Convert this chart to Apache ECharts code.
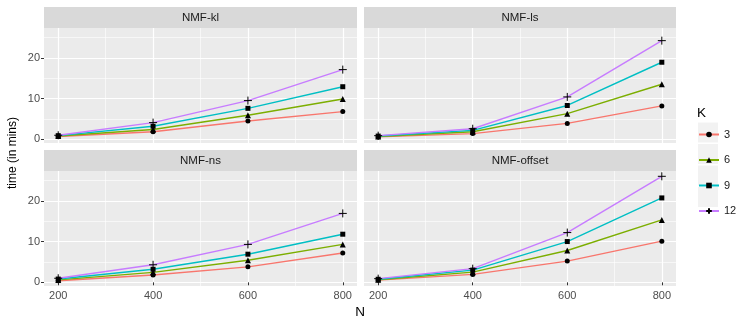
<!DOCTYPE html>
<html>
<head>
<meta charset="utf-8">
<script src="https://cdn.jsdelivr.net/npm/echarts@6/dist/echarts.min.js"></script>
<style>
  html, body { margin: 0; padding: 0; background: #fff; }
  #chart { width: 747px; height: 323px; }
</style>
</head>
<body>
<div id="chart"></div>
<script>
const nValues = [200, 400, 600, 800];
const kLevels = ['3', '6', '9', '12'];
const panelNames = ['NMF-kl', 'NMF-ls', 'NMF-ns', 'NMF-offset'];

const klTimes = [
  [0.7, 1.85, 4.5, 6.8],
  [0.8, 2.4, 5.9, 9.9],
  [0.9, 3.2, 7.6, 12.9],
  [1.0, 4.1, 9.5, 17.1]
];
const lsTimes = [
  [0.6, 1.4, 3.9, 8.2],
  [0.7, 1.85, 6.3, 13.5],
  [0.8, 2.2, 8.3, 18.9],
  [0.9, 2.6, 10.4, 24.2]
];
const nsTimes = [
  [0.4, 1.8, 3.8, 7.2],
  [0.6, 2.45, 5.4, 9.3],
  [0.8, 3.2, 6.9, 11.8],
  [1.0, 4.3, 9.3, 16.9]
];
const offsetTimes = [
  [0.55, 1.95, 5.2, 10.1],
  [0.65, 2.5, 7.8, 15.3],
  [0.75, 3.0, 10.0, 20.7],
  [0.9, 3.35, 12.2, 26.0]
];
const panelTimes = [klTimes, lsTimes, nsTimes, offsetTimes];

const xTicks = [200, 400, 600, 800];
const xMinor = [300, 500, 700];
const yTicks = [0, 10, 20];
const yMinor = [5, 15, 25];

// ggplot-ish look
const lineColors = ['#F8766D', '#7CAE00', '#00BFC4', '#C77CFF'];
const symbols = ['circle', 'triangle', 'rect', 'path://M0,5L10,5M5,0L5,10'];
const symbolSizes = [5, 6, 5, 8];
const font = 'Liberation Sans, Arial, sans-serif';

// panel boxes
const panels = [
  { left: 44, top: 28, width: 313, height: 115 },
  { left: 364, top: 28, width: 312, height: 115 },
  { left: 44, top: 171, width: 313, height: 115 },
  { left: 364, top: 171, width: 312, height: 115 }
];
const stripH = 21;

var chartDom = document.getElementById('chart');
var myChart = echarts.init(chartDom);

var grids = [], xAxes = [], yAxes = [], series = [], graphics = [];

panels.forEach(function (p, i) {
  var bottomRow = i >= 2;
  var leftCol = i % 2 === 0;

  grids.push({
    left: p.left, top: p.top, width: p.width, height: p.height,
    show: true, backgroundColor: '#EBEBEB', borderWidth: 0
  });

  // major x axis
  xAxes.push({
    type: 'value', gridIndex: i, min: 170, max: 830,
    axisLine: { show: false },
    axisTick: { show: bottomRow, customValues: xTicks, length: 3, lineStyle: { color: '#333333', width: 1 } },
    axisLabel: { show: bottomRow, customValues: xTicks, margin: 4, fontSize: 11, color: '#4D4D4D', fontFamily: font },
    splitLine: { show: true, lineStyle: { color: '#FFFFFF', width: 1.2 } }
  });
  // major y axis
  yAxes.push({
    type: 'value', gridIndex: i, min: -0.9, max: 27.3,
    axisLine: { show: false },
    axisTick: { show: leftCol, customValues: yTicks, length: 3, lineStyle: { color: '#333333', width: 1 } },
    axisLabel: { show: leftCol, customValues: yTicks, margin: 4, fontSize: 11, color: '#4D4D4D', fontFamily: font },
    splitLine: { show: true, lineStyle: { color: '#FFFFFF', width: 1.2 } }
  });

  // strip
  graphics.push({
    type: 'rect', silent: true,
    shape: { x: p.left, y: p.top - stripH, width: p.width, height: stripH },
    style: { fill: '#D9D9D9' }
  });
  graphics.push({
    type: 'text', silent: true,
    x: p.left + p.width / 2, y: p.top - stripH / 2,
    style: {
      text: panelNames[i], fill: '#1A1A1A', font: '11.5px ' + font,
      textAlign: 'center', textVerticalAlign: 'middle'
    }
  });
});

// minor grid axes (thin lines)
panels.forEach(function (p, i) {
  xAxes.push({
    type: 'value', gridIndex: i, min: 170, max: 830,
    axisLine: { show: false },
    axisTick: { show: false, customValues: xMinor },
    axisLabel: { show: false, customValues: xMinor },
    splitLine: { show: true, lineStyle: { color: '#FFFFFF', width: 0.6 } }
  });
  yAxes.push({
    type: 'value', gridIndex: i, min: -0.9, max: 27.3,
    axisLine: { show: false },
    axisTick: { show: false, customValues: yMinor },
    axisLabel: { show: false, customValues: yMinor },
    splitLine: { show: true, lineStyle: { color: '#FFFFFF', width: 0.6 } }
  });
});

panelTimes.forEach(function (rows, i) {
  rows.forEach(function (vals, k) {
    series.push({
      name: kLevels[k],
      type: 'line',
      xAxisIndex: i, yAxisIndex: i,
      data: nValues.map(function (n, j) { return [n, vals[j]]; }),
      symbol: symbols[k],
      symbolSize: symbolSizes[k],
      showAllSymbol: true,
      animation: false,
      z: 3,
      lineStyle: { color: lineColors[k], width: 1.4 },
      itemStyle: k === 3
        ? { color: '#000000', borderColor: '#000000', borderWidth: 1 }
        : { color: '#000000', borderWidth: 0 },
      emphasis: { disabled: true }
    });
  });
});

// axis titles
graphics.push({
  type: 'text', silent: true, x: 360, y: 312,
  style: { text: 'N', fill: '#000000', font: '13.5px ' + font, textAlign: 'center', textVerticalAlign: 'middle' }
});
graphics.push({
  type: 'text', silent: true, x: 13, y: 153, rotation: Math.PI / 2,
  style: { text: 'time (in mins)', fill: '#000000', font: '12px ' + font, textAlign: 'center', textVerticalAlign: 'middle' }
});

// legend title and key backgrounds
graphics.push({
  type: 'text', silent: true, x: 697, y: 113,
  style: { text: 'K', fill: '#000000', font: '13.5px ' + font, textAlign: 'left', textVerticalAlign: 'middle' }
});
kLevels.forEach(function (k, idx) {
  graphics.push({
    type: 'rect', silent: true, z: -1,
    shape: { x: 698, y: 122.5 + idx * 21.5, width: 20, height: 20 },
    style: { fill: '#F2F2F2' }
  });
});

var option = {
  backgroundColor: '#FFFFFF',
  animation: false,
  grid: grids,
  xAxis: xAxes,
  yAxis: yAxes,
  legend: {
    data: kLevels,
    orient: 'vertical',
    left: 698, top: 129,
    padding: 0,
    itemWidth: 20, itemHeight: 7, itemGap: 14.5,
    selectedMode: false,
    textStyle: { fontSize: 11, color: '#1A1A1A', fontFamily: font }
  },
  graphic: graphics,
  series: series
};

option && myChart.setOption(option);
</script>
</body>
</html>
